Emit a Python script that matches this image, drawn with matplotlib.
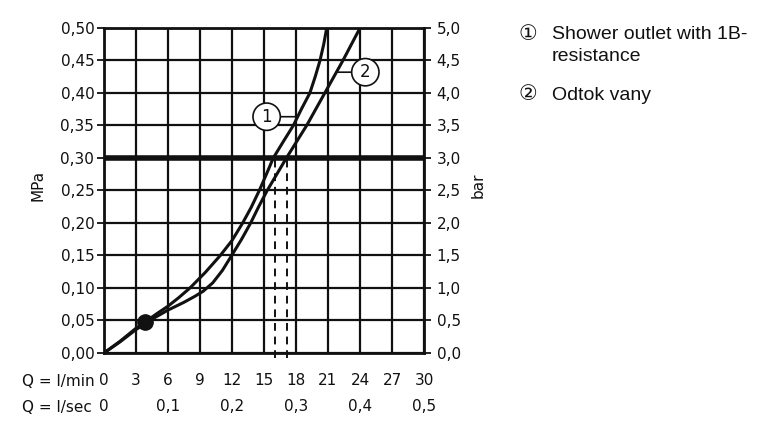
import numpy as np
import matplotlib.pyplot as plt

# flow values (l/min) and pressure (MPa)
q1 = [0, 1.5, 3, 3.8, 5, 6, 7, 8.06, 9.5, 10.9, 12, 13.0, 13.8, 14.56,
      15.2, 15.87, 16.8, 17.75, 18.5, 19.3, 19.8, 20.25, 20.6, 20.88]
p1 = [0, 0.018, 0.038, 0.047, 0.061, 0.072, 0.085, 0.10, 0.124, 0.15, 0.173,
      0.20, 0.224, 0.25, 0.274, 0.30, 0.325, 0.35, 0.375, 0.40, 0.425, 0.45,
      0.475, 0.50]

q2 = [0, 1.5, 3, 4.5, 6, 7.5, 8.5, 9.3, 10.2, 11.1, 11.97, 12.9, 13.75,
      14.5, 15.3, 16.2, 17.1, 18.05, 19.0, 19.85, 20.7, 21.55, 22.4, 23.2, 24.0]
p2 = [0, 0.017, 0.036, 0.052, 0.066, 0.078, 0.087, 0.095, 0.108, 0.127, 0.15,
      0.175, 0.20, 0.225, 0.25, 0.275, 0.30, 0.325, 0.35, 0.375, 0.40, 0.425,
      0.45, 0.475, 0.50]

dot_q, dot_p = 3.8, 0.047
limit_p = 0.30
dash_q = [16.0, 17.2]

qmin_ticks = [0, 3, 6, 9, 12, 15, 18, 21, 24, 27, 30]
qsec_ticks = [0, 6, 12, 18, 24, 30]
qsec_labels = ['0', '0,1', '0,2', '0,3', '0,4', '0,5']
mpa_ticks = [0, 0.05, 0.10, 0.15, 0.20, 0.25, 0.30, 0.35, 0.40, 0.45, 0.50]
bar_ticks = [0, 0.5, 1.0, 1.5, 2.0, 2.5, 3.0, 3.5, 4.0, 4.5, 5.0]

legend_lines = ['\u2460', '\u2461']
legend_texts = ['Shower outlet with 1B-\nresistance', 'Odtok vany']

ink = '#111111'
fs = 11

fig = plt.figure(figsize=(7.8, 4.3), dpi=100)
ax = fig.add_axes([0.1333, 0.1791, 0.4103, 0.7558])
ax.set_xlim(0, 30)
ax.set_ylim(0, 0.5)

ax.set_xticks(qmin_ticks)
ax.set_yticks(mpa_ticks)
ax.grid(True, color=ink, lw=1.6)
ax.set_axisbelow(True)
for s in ax.spines.values():
    s.set_linewidth(2.0)
    s.set_color(ink)

ax.tick_params(axis='x', length=0, labelbottom=False)
ax.tick_params(axis='y', direction='out', length=5, width=1.3, pad=2,
               labelsize=fs, colors=ink)
ax.set_yticklabels([f'{v:.2f}'.replace('.', ',') for v in mpa_ticks])

ax2 = ax.twinx()
ax2.set_ylim(0, 5)
ax2.set_yticks(bar_ticks)
ax2.set_yticklabels([f'{v:.1f}'.replace('.', ',') for v in bar_ticks])
ax2.tick_params(axis='y', direction='out', length=5, width=1.3, pad=4,
                labelsize=fs, colors=ink)
for s in ax2.spines.values():
    s.set_visible(False)

# limit line and dashed drops
ax.axhline(limit_p, color=ink, lw=4)
ax.vlines(dash_q, -0.008, limit_p, colors=ink, lw=1.4,
          linestyles=(0, (4, 3)), clip_on=False)

ax.plot(q1, p1, color=ink, lw=2.2, solid_capstyle='butt', solid_joinstyle='round')
ax.plot(q2, p2, color=ink, lw=2.2, solid_capstyle='butt', solid_joinstyle='round')
ax.plot([dot_q], [dot_p], 'o', color=ink, ms=11)

circ = dict(boxstyle='circle,pad=0.28', fc='white', ec=ink, lw=1.2)
ax.annotate('1', xy=(18.0, 0.3635), xytext=(15.25, 0.3635), fontsize=12,
            ha='center', va='center', bbox=circ, color=ink,
            arrowprops=dict(arrowstyle='-', color=ink, lw=1.2, shrinkA=0, shrinkB=0))
ax.annotate('2', xy=(21.95, 0.432), xytext=(24.5, 0.432), fontsize=12,
            ha='center', va='center', bbox=circ, color=ink,
            arrowprops=dict(arrowstyle='-', color=ink, lw=1.2, shrinkA=0, shrinkB=0))

# flow scales under the chart
xt = ax.get_xaxis_transform()
for q in qmin_ticks:
    ax.text(q, -0.085, str(q), transform=xt, ha='center', va='center',
            fontsize=fs, color=ink)
for q, lab in zip(qsec_ticks, qsec_labels):
    ax.text(q, -0.165, lab, transform=xt, ha='center', va='center',
            fontsize=fs, color=ink)
fig.text(22 / 780, 1 - 382 / 430, 'Q = l/min', ha='left', va='center',
         fontsize=fs, color=ink)
fig.text(22 / 780, 1 - 408 / 430, 'Q = l/sec', ha='left', va='center',
         fontsize=fs, color=ink)

fig.text(38 / 780, 1 - 185 / 430, 'MPa', rotation=90, ha='center', va='center',
         fontsize=fs, color=ink)
fig.text(478 / 780, 1 - 185 / 430, 'bar', rotation=90, ha='center', va='center',
         fontsize=fs, color=ink)

# legend
fam = ['Liberation Sans', 'DejaVu Sans']
fig.text(528 / 780, 1 - 35 / 430, legend_lines[0], ha='center', va='center',
         fontsize=15, family=fam, color=ink)
fig.text(552 / 780, 1 - 26 / 430, legend_texts[0], ha='left', va='top',
         fontsize=14, family=fam, color=ink, linespacing=1.35)
fig.text(528 / 780, 1 - 95 / 430, legend_lines[1], ha='center', va='center',
         fontsize=15, family=fam, color=ink)
fig.text(552 / 780, 1 - 95 / 430, legend_texts[1], ha='left', va='center',
         fontsize=14, family=fam, color=ink)

fig.savefig('out.png', dpi=100, facecolor='white')
